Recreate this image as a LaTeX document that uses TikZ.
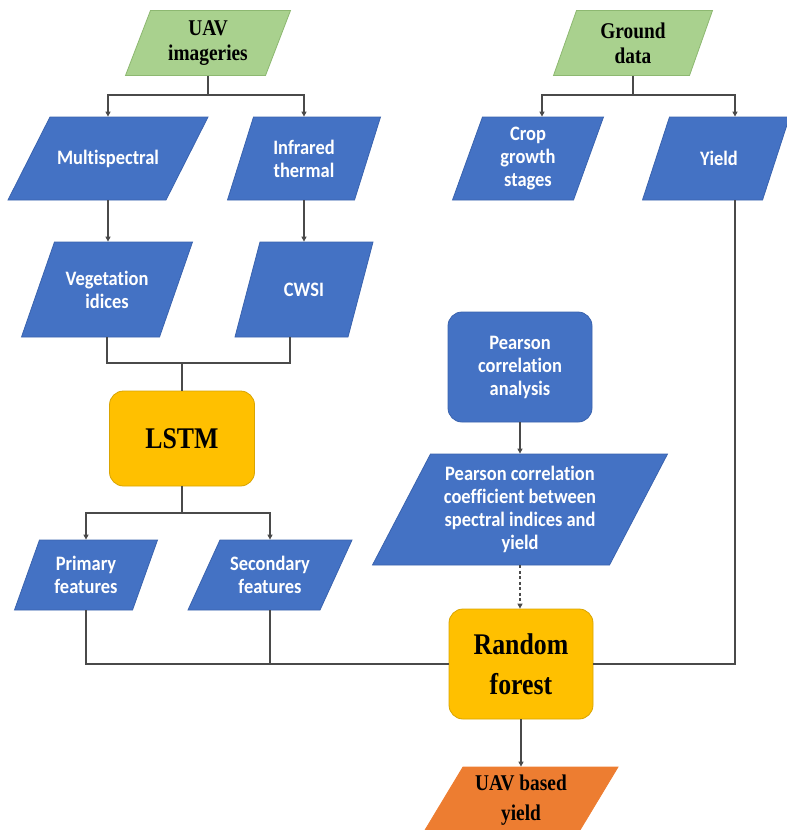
\documentclass[tikz,border=0pt]{standalone}
\usepackage{fontspec}
\setmainfont{Liberation Serif}[FakeStretch=0.86]
\newfontfamily\boxfont{Carlito}[FakeStretch=0.9, Ligatures=NoCommon]
\usetikzlibrary{arrows.meta}
\definecolor{pblue}{HTML}{4472C4}
\definecolor{pblueline}{HTML}{3A63AE}
\definecolor{pgreen}{HTML}{A9D18E}
\definecolor{pgreenline}{HTML}{8DB871}
\definecolor{pyellow}{HTML}{FFC000}
\definecolor{pyellowline}{HTML}{D9A400}
\definecolor{porange}{HTML}{ED7D31}
\definecolor{conn}{HTML}{4A4A4A}
\begin{document}
\begin{tikzpicture}[x=1pt,y=-1pt,
  pg/.style 2 args={rectangle, minimum width=#1, minimum height=#2, inner sep=0pt, line width=0.8pt},
  bluepg/.style={fill=pblue, draw=pblueline},
  greenpg/.style={fill=pgreen, draw=pgreenline},
  orangepg/.style={fill=porange, draw=porange},
  rbox/.style 2 args={rectangle, rounded corners=14pt, minimum width=#1, minimum height=#2, inner sep=0pt, line width=0.8pt},
  btext/.style={font=\boxfont\bfseries\fontsize{20.5}{23}\selectfont, text=white, align=center, inner sep=0pt},
  ttext/.style={font=\bfseries\fontsize{22.5}{25}\selectfont, text=black, align=center, inner sep=0pt},
  bigtext/.style={font=\bfseries\fontsize{30}{40}\selectfont, text=black, align=center, inner sep=0pt},
  line/.style={draw=conn, line width=1.2pt},
  arr/.style={line, -{Triangle[length=5pt,width=5pt]}},
]
\useasboundingbox (0,0) rectangle (787,830);
\clip (0,0) rectangle (787,830);

% ---- inputs ----
\node[pg={140}{65}, greenpg, xslant=25/65] (uav) at (208,43) {};
\node[ttext] (uav-t) at (uav.center) {UAV\\imageries};
\node[pg={136}{65}, greenpg, xslant=23/65] (gnd) at (633,43) {};
\node[ttext] (gnd-t) at (gnd.center) {Ground\\data};

% ---- sensor data ----
\node[pg={158}{83}, bluepg, xslant=42/83] (ms) at (108,158.5) {};
\node[btext] (ms-t) at (ms.center) {Multispectral};
\node[pg={127}{83}, bluepg, xslant=26/83] (ir) at (304,158.5) {};
\node[btext] (ir-t) at (ir.center) {Infrared\\thermal};
\node[pg={121}{83}, bluepg, xslant=30/83] (crop) at (528,158.5) {};
\node[btext] (crop-t) at (crop.center) {Crop\\growth\\stages};
\node[pg={120}{83}, bluepg, xslant=27/83] (yld) at (716,158.5) {};
\node[btext] (yld-t) at (719,158.5) {Yield};

% ---- derived indices ----
\node[pg={138}{95}, bluepg, xslant=33/95] (veg) at (107,289.5) {};
\node[btext] (veg-t) at (veg.center) {Vegetation\\idices};
\node[pg={113}{95}, bluepg, xslant=25/95] (cwsi) at (304,289.5) {};
\node[btext] (cwsi-t) at (cwsi.center) {CWSI};

% ---- LSTM and its features ----
\node[rbox={145}{95}, fill=pyellow, draw=pyellowline] (lstm) at (182,438.5) {};
\node[bigtext] (lstm-t) at (lstm.center) {LSTM};
\node[pg={118}{70}, bluepg, xslant=25/70] (prim) at (86,575) {};
\node[btext] (prim-t) at (prim.center) {Primary\\features};
\node[pg={132}{70}, bluepg, xslant=32/70] (sec) at (270,575) {};
\node[btext] (sec-t) at (sec.center) {Secondary\\features};

% ---- correlation branch ----
\node[rbox={144}{110}, fill=pblue, draw=pblueline] (pca) at (520,367) {};
\node[btext] (pca-t) at (pca.center) {Pearson\\correlation\\analysis};
\node[pg={237}{111}, bluepg, xslant=58/111] (pcc) at (520,509.5) {};
\node[btext] (pcc-t) at (pcc.center) {Pearson correlation\\coefficient between\\spectral indices and\\yield};

% ---- model and output ----
\node[rbox={144}{110}, fill=pyellow, draw=pyellowline] (rf) at (521,664) {};
\node[bigtext] (rf-t) at (rf.center) {Random\\forest};
\node[pg={155}{83}, orangepg, xslant=50/83] (out) at (515.5,808.5) {};
\node[ttext, font=\bfseries\fontsize{22.5}{30}\selectfont] (out-t) at (521,800) {UAV based\\yield};

% ---- connectors ----
\coordinate (j-uav) at (208,95);
\coordinate (j-gnd) at (633,95);
\coordinate (x-crop) at (542,0);
\coordinate (x-yld) at (735,0);
\coordinate (x-cwsi) at (290,0);
\coordinate (j-idx) at (182,363);
\coordinate (j-lstm) at (182,513);
\coordinate (j-feat) at (270,664);

\draw[line] (uav.center |- uav.south) -- (j-uav);
\draw[arr] (j-uav) -| (ms.center |- ms.north);
\draw[arr] (j-uav) -| (ir.center |- ir.north);

\draw[line] (gnd.center |- gnd.south) -- (j-gnd);
\draw[arr] (j-gnd) -| (crop.north -| x-crop);
\draw[arr] (j-gnd) -| (yld.north -| x-yld);

\draw[arr] (ms.center |- ms.south) -- (veg.north -| ms.center);
\draw[arr] (ir.center |- ir.south) -- (cwsi.north -| ir.center);

\draw[line] (veg.center |- veg.south) |- (j-idx);
\draw[line] (cwsi.south -| x-cwsi) |- (j-idx);
\draw[line] (j-idx) -- (lstm.north);

\draw[line] (lstm.south) -- (j-lstm);
\draw[arr] (j-lstm) -| (prim.center |- prim.north);
\draw[arr] (j-lstm) -| (sec.center |- sec.north);

\draw[line] (prim.center |- prim.south) |- (rf.west);
\draw[line] (sec.center |- sec.south) -- (j-feat);
\draw[line] (yld.south -| x-yld) |- (rf.east);

\draw[arr] (pca.south) -- (pcc.center |- pcc.north);
\draw[arr, dashed, dash pattern=on 3pt off 2.5pt] (pcc.center |- pcc.south) -- (rf.north -| pcc.center);
\draw[arr] (rf.south) -- (out.north -| rf.center);
\end{tikzpicture}
\end{document}
